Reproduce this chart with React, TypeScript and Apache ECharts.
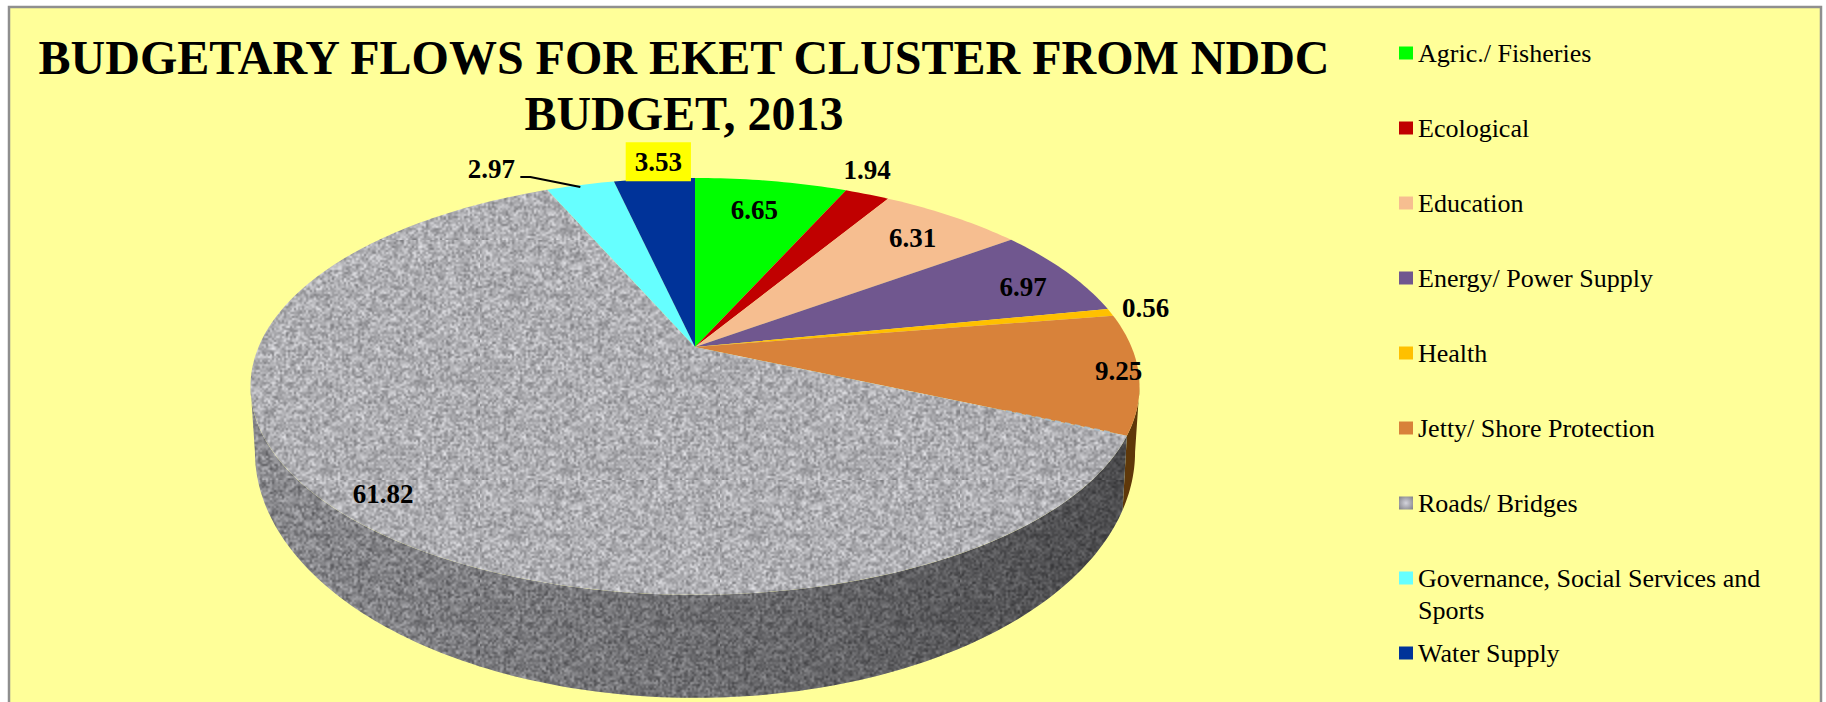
import React, { useEffect, useRef } from "react";
import * as echarts from "echarts";

const categories = [
  "Agric./ Fisheries",
  "Ecological",
  "Education",
  "Energy/ Power Supply",
  "Health",
  "Jetty/ Shore Protection",
  "Roads/ Bridges",
  "Governance, Social Services and Sports",
  "Water Supply",
];
const values = [6.65, 1.94, 6.31, 6.97, 0.56, 9.25, 61.82, 2.97, 3.53];
const colors = ["#00FF00", "#C00000", "#F6BE90", "#70578F", "#FFC000", "#D8823A", "#A9A9AD", "#66FFFF", "#003399"];
const sideColors = ["#008000", "#600000", "#8a6a50", "#3f3050", "#8a6800", "#5f3809", "#6f7074", "#308080", "#001a50"];
const labelOffsets = [
  [-17, 29], [0, -24], [-40, 21], [-43, 15], [35, -4], [-20, -3], [46, -16], [-89, -16], [4, -17],
];

const TITLE_TEXT = "BUDGETARY FLOWS FOR EKET CLUSTER FROM NDDC\nBUDGET, 2013";
const FONT = '"Liberation Serif", "Times New Roman", serif';

// projected pie geometry
const APEX_X = 695;
const APEX_Y = 347;
const A = 436.5;
const B = 201;
const K = 0.189;
const LOW_SX = 0.99;
const LOW_SY = 1.18;
const LOW_DY = 58.4;

const total = values.reduce((s, v) => s + v, 0);
const startAngles: number[] = [];
values.reduce((s, v, i) => {
  startAngles[i] = s;
  return s + v;
}, 0);

function rim(deg: number): [number, number] {
  const t = (deg * Math.PI) / 180;
  const u = Math.sin(t);
  const v = -Math.cos(t);
  const w = 1 - K * v;
  return [(A * u) / w, (B * v) / w];
}
const topPt = (deg: number): number[] => {
  const p = rim(deg);
  return [APEX_X + p[0], APEX_Y + p[1]];
};
const lowPt = (deg: number): number[] => {
  const p = rim(deg);
  return [APEX_X + LOW_SX * p[0], APEX_Y + LOW_DY + LOW_SY * p[1]];
};
function arcPts(fn: (d: number) => number[], a: number, b: number): number[][] {
  const n = Math.max(2, Math.ceil(Math.abs(b - a)));
  const out: number[][] = [];
  for (let i = 0; i <= n; i++) out.push(fn(a + ((b - a) * i) / n));
  return out;
}

// deterministic speckle tile for the stone-like fill of the Roads slice
function makeTexture(base: number, amp: number): HTMLCanvasElement {
  const size = 240;
  const small = document.createElement("canvas");
  small.width = size / 2;
  small.height = size / 2;
  const sctx = small.getContext("2d")!;
  const img = sctx.createImageData(small.width, small.height);
  let seed = 12345;
  const next = () => {
    seed = (seed * 1103515245 + 12345) & 0x7fffffff;
    return seed / 0x7fffffff;
  };
  for (let i = 0; i < img.data.length; i += 4) {
    const g = base + (next() + next() - 1) * amp;
    img.data[i] = g;
    img.data[i + 1] = g;
    img.data[i + 2] = g + 4;
    img.data[i + 3] = 255;
  }
  sctx.putImageData(img, 0, 0);
  const c = document.createElement("canvas");
  c.width = size;
  c.height = size;
  const ctx = c.getContext("2d")!;
  ctx.imageSmoothingEnabled = true;
  ctx.drawImage(small, 0, 0, size, size);
  return c;
}

export default function App() {
  const ref = useRef<HTMLDivElement>(null);
  useEffect(() => {
    document.body.style.margin = "0";
    document.body.style.overflow = "hidden";
    const chart = echarts.init(ref.current!, undefined, { renderer: "svg" });
    const topTex = { image: makeTexture(175, 62), repeat: "repeat", imageWidth: 240, imageHeight: 240 };
    const sideTex = { image: makeTexture(140, 62), repeat: "repeat", imageWidth: 240, imageHeight: 240 };
    const ROADS = 6;
    const sil0 = (Math.acos(-K) * 180) / Math.PI;
    const sil1 = 360 - sil0;

    const series = categories.map((name, i) => ({
      type: "custom",
      name,
      coordinateSystem: "none",
      itemStyle: { color: colors[i] },
      z: 2 + i,
      silent: true,
      data: [[values[i]]],
      renderItem: (_p: any, api: any) => {
        const val = api.value(0);
        const a = (startAngles[i] / total) * 360;
        const b = a + (val / total) * 360;
        const children: any[] = [];
        const sa = Math.max(a, sil0);
        const sb = Math.min(b, sil1);
        if (sb > sa) {
          const pts = [...arcPts(topPt, sa, sb), ...arcPts(lowPt, sb, sa)];
          children.push({
            type: "polygon",
            shape: { points: pts },
            style: { fill: i === ROADS ? sideTex : sideColors[i], stroke: "none" },
          });
          if (i === ROADS) {
            children.push({
              type: "polygon",
              shape: { points: pts },
              style: {
                stroke: "none",
                fill: {
                  type: "linear",
                  x: 0,
                  y: 0,
                  x2: 1,
                  y2: 0,
                  colorStops: [
                    { offset: 0, color: "rgba(0,0,0,0)" },
                    { offset: 0.5, color: "rgba(0,0,0,0.2)" },
                    { offset: 1, color: "rgba(0,0,0,0.46)" },
                  ],
                },
              },
            });
          }
        }
        const face = [[APEX_X, APEX_Y], ...arcPts(topPt, a, b)];
        children.push({
          type: "polygon",
          shape: { points: face },
          style: { fill: i === ROADS ? topTex : colors[i], stroke: "none" },
        });
        if (i === ROADS) {
          const e = topPt(a);
          const at = (f: number) => [APEX_X + (e[0] - APEX_X) * f, APEX_Y + (e[1] - APEX_Y) * f];
          children.push({
            type: "polyline",
            shape: { points: [at(0.72), at(0.97)] },
            style: { stroke: "#A4C0D4", lineWidth: 2, lineDash: [6, 4], opacity: 0.7, fill: "none" },
          });
        }
        const m = topPt((a + b) / 2);
        const lx = m[0] + labelOffsets[i][0];
        const ly = m[1] + labelOffsets[i][1];
        if (i === 7) {
          children.push({
            type: "polyline",
            shape: { points: [[lx + 29, ly + 8], [lx + 39, ly + 8], [lx + 89, ly + 18]] },
            style: { stroke: "#000", lineWidth: 2, fill: "none" },
          });
        }
        children.push({
          type: "text",
          style: {
            x: lx,
            y: ly,
            text: val.toFixed(2),
            align: "center",
            verticalAlign: "middle",
            fill: "#000",
            font: `bold 27px ${FONT}`,
            ...(i === 8 ? { backgroundColor: "#FFFF00", padding: [6, 9, 6, 9] } : {}),
          },
        });
        return { type: "group", children };
      },
    }));

    chart.setOption({
      animation: false,
      backgroundColor: "#FFFFFF",
      title: {
        text: TITLE_TEXT,
        left: 679,
        top: 24,
        textAlign: "center",
        textStyle: { fontFamily: FONT, fontWeight: "bold", fontSize: 48, lineHeight: 56, color: "#000" },
      },
      legend: {
        orient: "vertical",
        left: 1399,
        top: 40,
        padding: 0,
        itemWidth: 14,
        itemHeight: 13,
        itemGap: 49,
        icon: "rect",
        selectedMode: false,
        formatter: (n: string) => n.replace(" Sports", ""),
        textStyle: { fontFamily: FONT, fontSize: 26, lineHeight: 26, color: "#000" },
        data: categories.map((name, i) => ({
          name,
          icon: "rect",
          itemStyle: {
            color:
              i === ROADS
                ? {
                    type: "radial",
                    x: 0.5,
                    y: 0.5,
                    r: 0.65,
                    colorStops: [
                      { offset: 0, color: "#D4D4DC" },
                      { offset: 1, color: "#84848C" },
                    ],
                  }
                : colors[i],
          },
        })),
      },
      graphic: [
        {
          type: "rect",
          z: -10,
          silent: true,
          shape: { x: 9, y: 7, width: 1812, height: 730 },
          style: { fill: "#FFFF99", stroke: "#8F8F8F", lineWidth: 2.5 },
        },
        {
          type: "text",
          z: 10,
          silent: true,
          style: {
            x: 1418,
            y: 610,
            text: "Sports",
            verticalAlign: "middle",
            fill: "#000",
            font: `26px ${FONT}`,
          },
        },
      ],
      series,
    });
    return () => chart.dispose();
  }, []);
  return <div ref={ref} style={{ width: 1826, height: 702 }} />;
}
